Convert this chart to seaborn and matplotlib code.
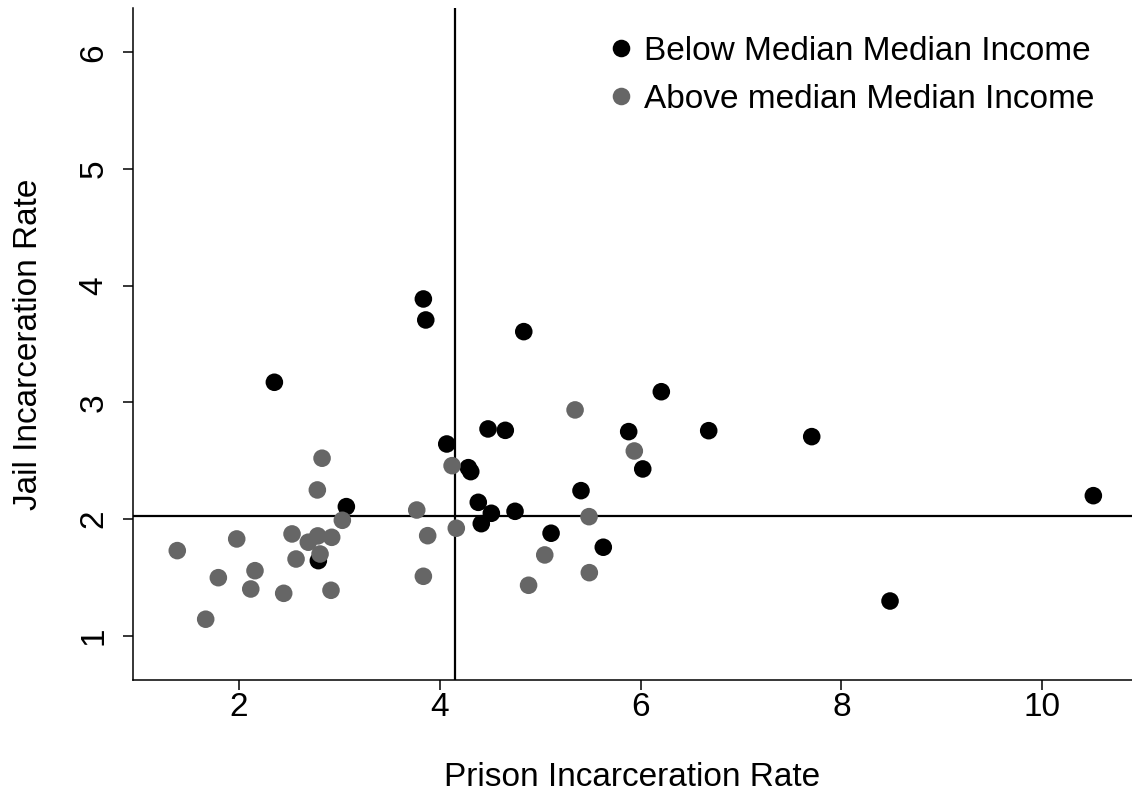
import matplotlib
matplotlib.use("Agg")
import matplotlib.pyplot as plt
import seaborn as sns
import pandas as pd

# Below median income (black)
below_x = [2.352, 3.836, 3.860, 4.836, 6.206, 4.069, 4.480, 4.652, 5.881, 6.678,
           7.704, 4.284, 4.308, 6.021, 5.406, 4.383, 3.069, 4.749, 4.513, 4.413,
           5.108, 5.628, 2.790, 8.484, 10.509]
below_y = [3.172, 3.886, 3.706, 3.606, 3.091, 2.643, 2.772, 2.760, 2.749, 2.757,
           2.706, 2.440, 2.406, 2.429, 2.243, 2.143, 2.106, 2.066, 2.049, 1.960,
           1.878, 1.758, 1.643, 1.297, 2.200]
# Above median income (gray)
above_x = [5.347, 5.937, 4.122, 3.770, 5.486, 4.164, 3.879, 5.045, 3.836, 5.489,
           4.884, 2.827, 2.780, 3.029, 1.385, 1.977, 2.528, 2.784, 2.690, 2.923,
           2.807, 2.568, 2.159, 1.794, 2.117, 2.445, 2.916, 1.668]
above_y = [2.935, 2.583, 2.457, 2.077, 2.020, 1.921, 1.857, 1.692, 1.509, 1.540,
           1.432, 2.521, 2.249, 1.989, 1.729, 1.829, 1.872, 1.855, 1.801, 1.843,
           1.700, 1.657, 1.557, 1.497, 1.400, 1.363, 1.389, 1.141]

groups = ["Below Median Median Income", "Above median Median Income"]
median_prison = 4.151
median_jail = 2.023
x_ticks = [2, 4, 6, 8, 10]
y_ticks = [1, 2, 3, 4, 5, 6]

df = pd.DataFrame({
    "prison": below_x + above_x,
    "jail": below_y + above_y,
    "group": [groups[0]] * len(below_x) + [groups[1]] * len(above_x),
})

sns.set_style("white")
plt.rcParams['font.family'] = ['Liberation Sans', 'DejaVu Sans']
plt.rcParams['text.color'] = 'black'
plt.rcParams['axes.labelcolor'] = 'black'
plt.rcParams['xtick.color'] = 'black'
plt.rcParams['ytick.color'] = 'black'

FS = 24

fig = plt.figure(figsize=(11.32, 7.95), dpi=100)
ax = fig.add_axes([133 / 1132, 1 - 680 / 795, 1 - 133 / 1132, (680 - 8) / 795])

ax.axvline(median_prison, color="black", lw=1.6, zorder=1)
ax.axhline(median_jail, color="black", lw=1.6, zorder=1)

sns.scatterplot(data=df, x="prison", y="jail", hue="group", hue_order=groups,
                palette=["#000000", "#666666"], s=160, linewidth=0, ax=ax,
                zorder=3)

ax.set_xlim(0.944, 10.894)
ax.set_ylim(0.620, 6.38)
ax.set_xticks(x_ticks)
ax.set_yticks(y_ticks)
ax.set_xticklabels([str(v) for v in x_ticks])
ax.set_yticklabels([str(v) for v in y_ticks], rotation=90, va="center")

for s in ["top", "right"]:
    ax.spines[s].set_visible(False)
for s in ["left", "bottom"]:
    ax.spines[s].set_color("black")
    ax.spines[s].set_linewidth(1.1)

ax.tick_params(axis="both", which="major", direction="out", length=7, width=1.1,
               color="black", labelcolor="black", labelsize=FS, bottom=True, left=True)
ax.tick_params(axis="x", pad=2)
ax.tick_params(axis="y", pad=10)

ax.set_xlabel("Prison Incarceration Rate", fontsize=FS, labelpad=28, color="black")
ax.set_ylabel("Jail Incarceration Rate", fontsize=FS, labelpad=25, color="black")

leg = ax.legend(loc="upper right", bbox_to_anchor=(0.976, 0.978), frameon=False,
                fontsize=FS, handlelength=1.0, handletextpad=0.2, labelspacing=0.5,
                borderaxespad=0, markerscale=1.0)
for t in leg.get_texts():
    t.set_color("black")

fig.savefig("out.png", dpi=100)
